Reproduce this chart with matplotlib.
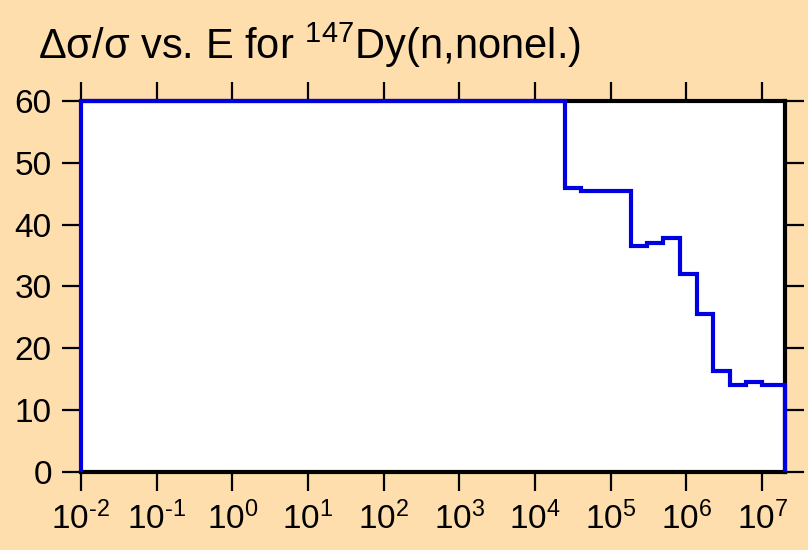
"""Step plot of relative uncertainty vs energy for 147Dy(n,nonel.)"""
import math
import matplotlib
matplotlib.use("Agg")
import matplotlib.pyplot as plt
from matplotlib.ticker import FixedLocator, FuncFormatter, NullLocator

# energy group boundaries (eV) and relative uncertainty (%) per group
energy_edges = [1e-2, 2.5e4, 4.1e4, 1.84e5, 3.0e5, 4.9e5, 8.2e5,
                1.36e6, 2.25e6, 3.74e6, 6.2e6, 1.0e7, 2.0e7]
rel_unc = [60, 46, 45.5, 36.5, 37.0, 37.8, 32.0, 25.5, 16.3, 14.0, 14.5, 14.0]
x_decades = [-2, -1, 0, 1, 2, 3, 4, 5, 6, 7]
y_ticks = [0, 10, 20, 30, 40, 50, 60]

plt.rcParams['font.family'] = ['Liberation Sans', 'DejaVu Sans']
plt.rcParams['mathtext.fontset'] = 'custom'
plt.rcParams['mathtext.rm'] = 'Liberation Sans'
plt.rcParams['mathtext.it'] = 'Liberation Sans:italic'
plt.rcParams['mathtext.bf'] = 'Liberation Sans:bold'

bg = '#FFDEAD'
fig = plt.figure(figsize=(8.08, 5.5), dpi=100, facecolor=bg)
ax = fig.add_axes([0.1002, 0.1418, 0.8713, 0.6746])
ax.set_facecolor('white')

ax.stairs(rel_unc, energy_edges, baseline=0, color='#0000E0',
          linewidth=3.0, zorder=3, clip_on=False)

ax.set_xscale('log')
ax.set_xlim(1e-2, 2e7)
ax.set_ylim(0, 60)


def decade_label(v, pos):
    d = round(math.log10(v))
    exp = str(d).replace('-', r'\text{-}')
    return r"$\mathregular{10^{%s}}$" % exp


ax.xaxis.set_major_locator(FixedLocator([10.0 ** d for d in x_decades]))
ax.xaxis.set_minor_locator(NullLocator())
ax.xaxis.set_major_formatter(FuncFormatter(decade_label))
ax.set_yticks(y_ticks)

ax.tick_params(axis='both', which='major', direction='out', length=14,
               width=1.6, color='black',
               top=True, right=True, labeltop=False, labelright=False)
ax.tick_params(axis='y', labelsize=24, pad=7)
ax.tick_params(axis='x', labelsize=24, pad=7)

for side in ['bottom', 'right', 'top']:
    ax.spines[side].set_linewidth(3.0)
ax.spines['left'].set_linewidth(1.2)

fig.text(0.047, 0.893, r"Δσ/σ vs. E for $^{147}$Dy(n,nonel.)",
         fontsize=30, va='baseline', ha='left')

fig.savefig("out.png", dpi=100, facecolor=bg)
